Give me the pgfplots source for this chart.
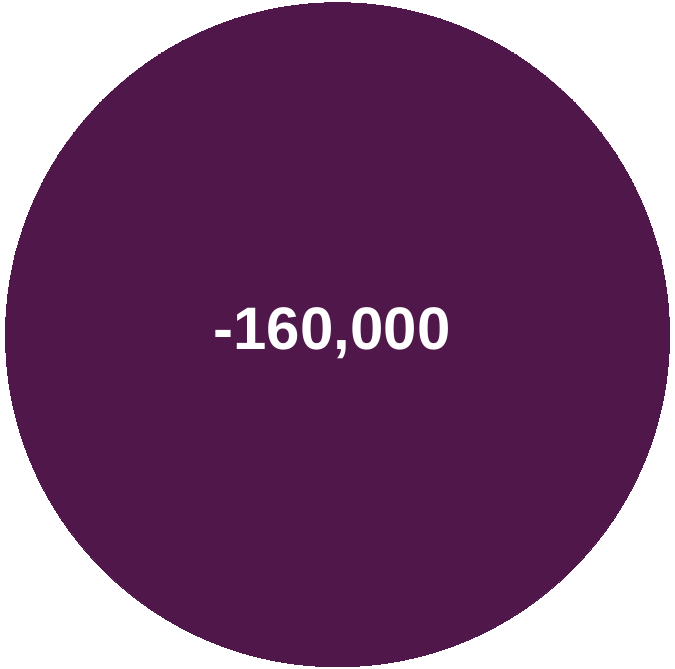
\documentclass[border=0pt]{standalone}
\usepackage{pgfplots}
\pgfplotsset{compat=1.18}
\usepackage{fontspec}
\setmainfont{Liberation Sans}
\definecolor{bubble}{HTML}{50174A}
\begin{document}
\begin{tikzpicture}
\useasboundingbox (0,0) rectangle (675bp,669bp);
\begin{axis}[
    at={(0,0)}, anchor=south west,
    scale only axis,
    width=675bp, height=669bp,
    xmin=0, xmax=675, ymin=0, ymax=669,
    hide axis,
    clip=false
]
% one bubble, centre and radius (px)
\addplot[only marks, mark=*, mark size=332bp, draw=bubble, fill=bubble, mark options={draw=bubble, fill=bubble, line width=0pt}]
    coordinates {(337.5,334.3)};
\coordinate (lab) at (axis cs:332,319);
\end{axis}
% label drawn after the axis so it sits on top of the bubble
\node[anchor=base, text=white, font=\fontsize{60bp}{60bp}\selectfont\bfseries, inner sep=0pt]
    at (lab) {-160,000};
\end{tikzpicture}
\end{document}
